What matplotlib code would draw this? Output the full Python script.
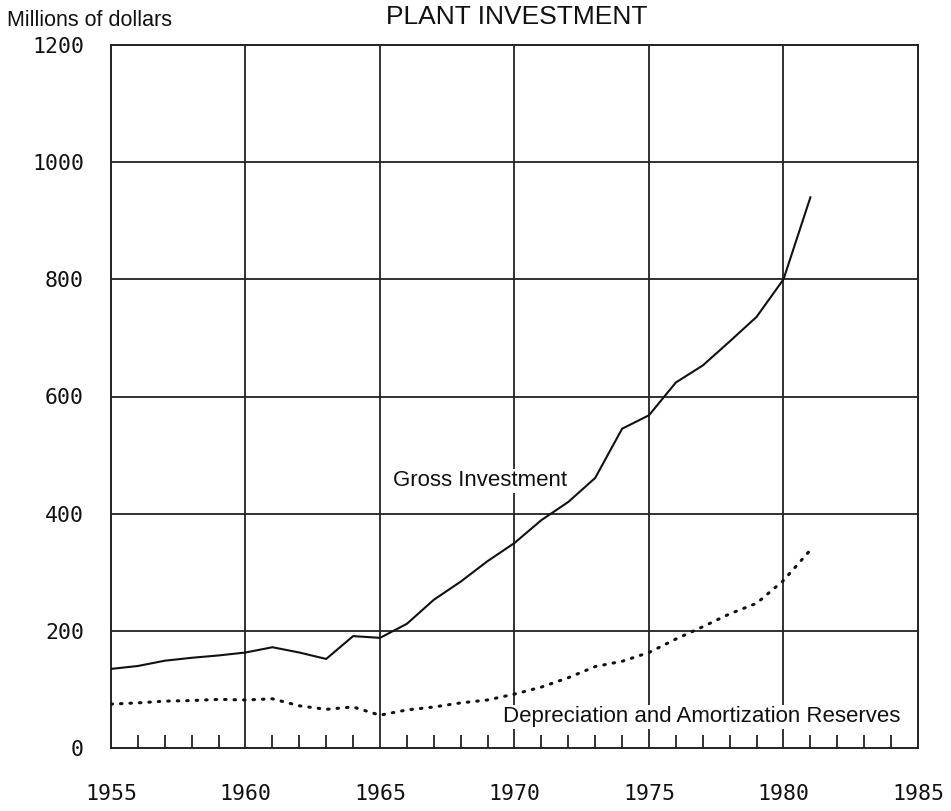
import matplotlib
matplotlib.use("Agg")
import matplotlib.pyplot as plt
import numpy as np

years = list(range(1955, 1982))
gross_investment = [135, 140, 149, 154, 158, 163, 172, 163, 152, 191, 188,
                    212, 253, 284, 319, 350, 389, 420, 461, 545, 568,
                    624, 653, 694, 736, 800, 940]
depreciation = [75, 77, 80, 81, 83, 82, 84, 72, 66, 70, 56,
                65, 70, 77, 82, 92, 104, 120, 139, 148, 163,
                186, 207, 229, 247, 286, 338]
x_ticks = [1955, 1960, 1965, 1970, 1975, 1980, 1985]
y_ticks = [0, 200, 400, 600, 800, 1000, 1200]
minor_years = list(range(1956, 1985))

title = "PLANT INVESTMENT"
ylabel = "Millions of dollars"
label_gross = "Gross Investment"
label_dep = "Depreciation and Amortization Reserves"

W, H = 951, 811
fig = plt.figure(figsize=(W / 100, H / 100), dpi=100)
ax = fig.add_axes([111 / W, (H - 748) / H, (918 - 111) / W, (748 - 45) / H])

ax.set_xlim(1955, 1985)
ax.set_ylim(0, 1200)

# grid
for xv in x_ticks[1:-1]:
    ax.axvline(xv, color="#222222", lw=1.3, zorder=1)
for yv in y_ticks[1:-1]:
    ax.axhline(yv, color="#222222", lw=1.3, zorder=1)

# minor year ticks along bottom (inside)
for yr in minor_years:
    if yr % 5 != 0:
        ax.plot([yr, yr], [0, 22], color="#222222", lw=1.3, zorder=1, solid_capstyle="butt")

ax.plot(years, gross_investment, color="#111111", lw=1.5, zorder=3)
ax.plot(years, depreciation, color="#111111", lw=2.2, linestyle=(0, (0.5, 2.6)),
        dash_capstyle="round", zorder=3)

for s in ax.spines.values():
    s.set_linewidth(1.4)
    s.set_color("#222222")

tickfont = dict(family="DejaVu Sans Mono", size=15.5)
ax.set_xticks(x_ticks)
ax.set_yticks(y_ticks)
ax.set_xticklabels([str(v) for v in x_ticks], **tickfont)
ax.set_yticklabels([str(v) for v in y_ticks], **tickfont)
ax.tick_params(axis="x", length=0, pad=26, colors="#111111")
ax.tick_params(axis="y", length=0, pad=19.5, colors="#111111")

textfont = dict(family="Liberation Sans", color="#111111")
fig.text(7 / W, 1 - 20 / H, ylabel, ha="left", va="center", fontsize=15.5, **textfont)
fig.text(517 / W, 1 - 17 / H, title, ha="center", va="center", fontsize=19, **textfont)

ax.text(1965.48, 456, label_gross, ha="left", va="center", fontsize=16, zorder=4,
        bbox=dict(facecolor="white", edgecolor="none", pad=1), **textfont)
ax.text(1969.57, 53, label_dep, ha="left", va="center", fontsize=16, zorder=4,
        bbox=dict(facecolor="white", edgecolor="none", pad=1), **textfont)

fig.savefig("out.png", dpi=100, facecolor="white")
